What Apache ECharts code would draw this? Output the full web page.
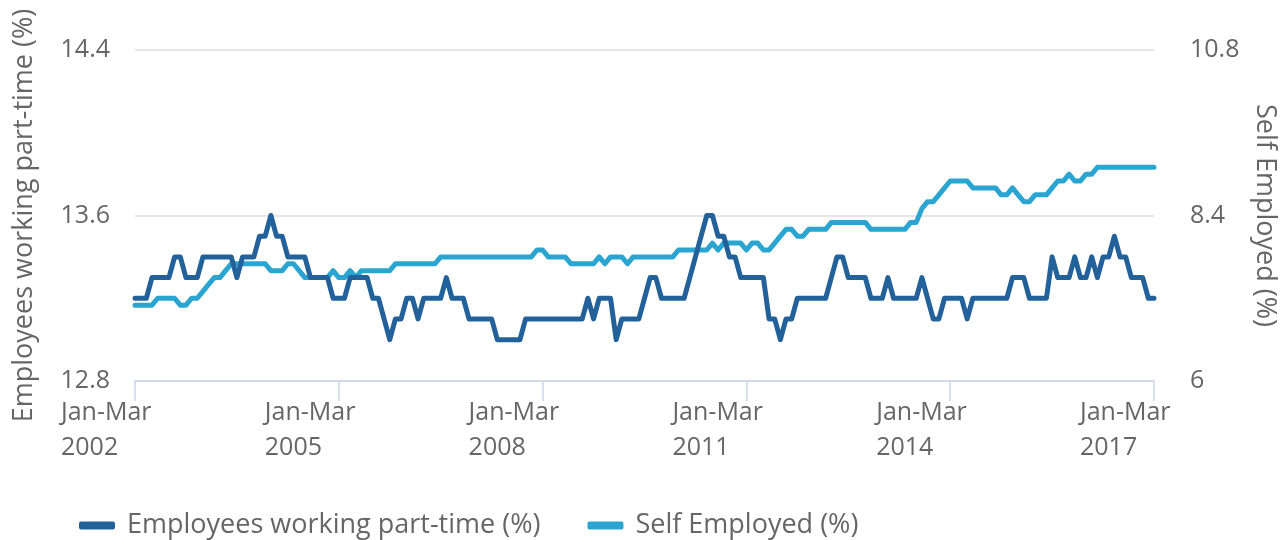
<!DOCTYPE html>
<html>
<head>
<meta charset="utf-8">
<title>Part-time and self employed</title>
<script src="https://cdn.jsdelivr.net/npm/echarts@6/dist/echarts.min.js"></script>
<style>
	html, body { margin: 0; padding: 0; background: #fff; }
	#main { width: 1288px; height: 540px; }
</style>
</head>
<body>
<div id="main"></div>
<script>
	// rolling quarters, Jan-Mar 2002 .. Jan-Mar 2017
	var quarterNames = ['Jan-Mar', 'Feb-Apr', 'Mar-May', 'Apr-Jun', 'May-Jul', 'Jun-Aug',
		'Jul-Sep', 'Aug-Oct', 'Sep-Nov', 'Oct-Dec', 'Nov-Jan', 'Dec-Feb'];
	var firstYear = 2002;
	var lastYear = 2017;

	var partTime = [
		13.2, 13.2, 13.2, 13.3, 13.3, 13.3, 13.3, 13.4, 13.4, 13.3,
		13.3, 13.3, 13.4, 13.4, 13.4, 13.4, 13.4, 13.4, 13.3, 13.4,
		13.4, 13.4, 13.5, 13.5, 13.6, 13.5, 13.5, 13.4, 13.4, 13.4,
		13.4, 13.3, 13.3, 13.3, 13.3, 13.2, 13.2, 13.2, 13.3, 13.3,
		13.3, 13.3, 13.2, 13.2, 13.1, 13.0, 13.1, 13.1, 13.2, 13.2,
		13.1, 13.2, 13.2, 13.2, 13.2, 13.3, 13.2, 13.2, 13.2, 13.1,
		13.1, 13.1, 13.1, 13.1, 13.0, 13.0, 13.0, 13.0, 13.0, 13.1,
		13.1, 13.1, 13.1, 13.1, 13.1, 13.1, 13.1, 13.1, 13.1, 13.1,
		13.2, 13.1, 13.2, 13.2, 13.2, 13.0, 13.1, 13.1, 13.1, 13.1,
		13.2, 13.3, 13.3, 13.2, 13.2, 13.2, 13.2, 13.2, 13.3, 13.4,
		13.5, 13.6, 13.6, 13.5, 13.5, 13.4, 13.4, 13.3, 13.3, 13.3,
		13.3, 13.3, 13.1, 13.1, 13.0, 13.1, 13.1, 13.2, 13.2, 13.2,
		13.2, 13.2, 13.2, 13.3, 13.4, 13.4, 13.3, 13.3, 13.3, 13.3,
		13.2, 13.2, 13.2, 13.3, 13.2, 13.2, 13.2, 13.2, 13.2, 13.3,
		13.2, 13.1, 13.1, 13.2, 13.2, 13.2, 13.2, 13.1, 13.2, 13.2,
		13.2, 13.2, 13.2, 13.2, 13.2, 13.3, 13.3, 13.3, 13.2, 13.2,
		13.2, 13.2, 13.4, 13.3, 13.3, 13.3, 13.4, 13.3, 13.3, 13.4,
		13.3, 13.4, 13.4, 13.5, 13.4, 13.4, 13.3, 13.3, 13.3, 13.2,
		13.2
	];

	var selfEmployed = [
		7.1, 7.1, 7.1, 7.1, 7.2, 7.2, 7.2, 7.2, 7.1, 7.1,
		7.2, 7.2, 7.3, 7.4, 7.5, 7.5, 7.6, 7.7, 7.7, 7.7,
		7.7, 7.7, 7.7, 7.7, 7.6, 7.6, 7.6, 7.7, 7.7, 7.6,
		7.5, 7.5, 7.5, 7.5, 7.5, 7.6, 7.5, 7.5, 7.6, 7.5,
		7.6, 7.6, 7.6, 7.6, 7.6, 7.6, 7.7, 7.7, 7.7, 7.7,
		7.7, 7.7, 7.7, 7.7, 7.8, 7.8, 7.8, 7.8, 7.8, 7.8,
		7.8, 7.8, 7.8, 7.8, 7.8, 7.8, 7.8, 7.8, 7.8, 7.8,
		7.8, 7.9, 7.9, 7.8, 7.8, 7.8, 7.8, 7.7, 7.7, 7.7,
		7.7, 7.7, 7.8, 7.7, 7.8, 7.8, 7.8, 7.7, 7.8, 7.8,
		7.8, 7.8, 7.8, 7.8, 7.8, 7.8, 7.9, 7.9, 7.9, 7.9,
		7.9, 7.9, 8.0, 7.9, 8.0, 8.0, 8.0, 8.0, 7.9, 8.0,
		8.0, 7.9, 7.9, 8.0, 8.1, 8.2, 8.2, 8.1, 8.1, 8.2,
		8.2, 8.2, 8.2, 8.3, 8.3, 8.3, 8.3, 8.3, 8.3, 8.3,
		8.2, 8.2, 8.2, 8.2, 8.2, 8.2, 8.2, 8.3, 8.3, 8.5,
		8.6, 8.6, 8.7, 8.8, 8.9, 8.9, 8.9, 8.9, 8.8, 8.8,
		8.8, 8.8, 8.8, 8.7, 8.7, 8.8, 8.7, 8.6, 8.6, 8.7,
		8.7, 8.7, 8.8, 8.9, 8.9, 9.0, 8.9, 8.9, 9.0, 9.0,
		9.1, 9.1, 9.1, 9.1, 9.1, 9.1, 9.1, 9.1, 9.1, 9.1,
		9.1
	];

	var periods = [];
	for (var y = firstYear; y <= lastYear; y++) {
		for (var m = 0; m < 12; m++) {
			if (y == lastYear && m > 0) break;
			periods.push(quarterNames[m] + ' ' + y);
		}
	}

	var darkBlue = '#22619a';
	var lightBlue = '#2aa5d2';
	var textColor = '#666666';
	var font = 'Open Sans';

	var option = {
		animation: false,
		textStyle: {
			fontFamily: font
		},
		grid: {
			left: 135,
			right: 134,
			top: 50,
			bottom: 159,
			outerBoundsMode: 'none',
			containLabel: false
		},
		legend: {
			left: 74,
			top: 507,
			icon: 'roundRect',
			itemWidth: 36,
			itemHeight: 8,
			itemGap: 47,
			textStyle: {
				color: textColor,
				fontSize: 27,
				fontFamily: font,
				padding: [0, 0, 0, 7]
			},
			data: ['Employees working part-time (%)', 'Self Employed (%)']
		},
		xAxis: {
			type: 'category',
			data: periods,
			boundaryGap: false,
			axisLine: {
				lineStyle: {
					color: '#ccd6eb',
					width: 1.5
				}
			},
			axisTick: {
				interval: 35,
				length: 20,
				lineStyle: {
					color: '#ccd6eb',
					width: 1.5
				}
			},
			axisLabel: {
				interval: 35,
				margin: 14,
				align: 'center',
				padding: [0, 58, 0, 0],
				formatter: function (v) {
					var parts = v.split(' ');
					return '{a|' + parts[0] + '}\n{a|' + parts[1] + '}';
				},
				rich: {
					a: {
						width: 90,
						align: 'left',
						fontSize: 25,
						lineHeight: 35,
						color: textColor,
						fontFamily: font
					}
				}
			}
		},
		yAxis: [{
			type: 'value',
			min: 12.8,
			max: 14.4,
			interval: 0.8,
			name: 'Employees working part-time (%)',
			nameLocation: 'middle',
			nameGap: 97,
			nameTextStyle: {
				color: textColor,
				fontSize: 27,
				fontFamily: font
			},
			axisLine: { show: false },
			axisTick: { show: false },
			axisLabel: {
				margin: 25,
				color: textColor,
				fontSize: 25,
				fontFamily: font
			},
			splitLine: {
				lineStyle: {
					color: '#e6e6e6',
					width: 2
				}
			}
		}, {
			type: 'value',
			min: 6,
			max: 10.8,
			interval: 2.4,
			name: 'Self Employed (%)',
			nameLocation: 'middle',
			nameGap: 97,
			nameRotate: -90,
			nameTextStyle: {
				color: textColor,
				fontSize: 27,
				fontFamily: font
			},
			axisLine: { show: false },
			axisTick: { show: false },
			axisLabel: {
				margin: 36,
				color: textColor,
				fontSize: 25,
				fontFamily: font
			},
			splitLine: { show: false }
		}],
		series: [{
			name: 'Employees working part-time (%)',
			type: 'line',
			yAxisIndex: 0,
			showSymbol: false,
			itemStyle: { color: darkBlue },
			lineStyle: {
				color: darkBlue,
				width: 5,
				join: 'round',
				cap: 'round'
			},
			z: 3,
			data: partTime
		}, {
			name: 'Self Employed (%)',
			type: 'line',
			yAxisIndex: 1,
			showSymbol: false,
			itemStyle: { color: lightBlue },
			lineStyle: {
				color: lightBlue,
				width: 5,
				join: 'round',
				cap: 'round'
			},
			z: 2,
			data: selfEmployed
		}]
	};

	var chart = echarts.init(document.getElementById('main'));
	chart.setOption(option);
</script>
</body>
</html>
